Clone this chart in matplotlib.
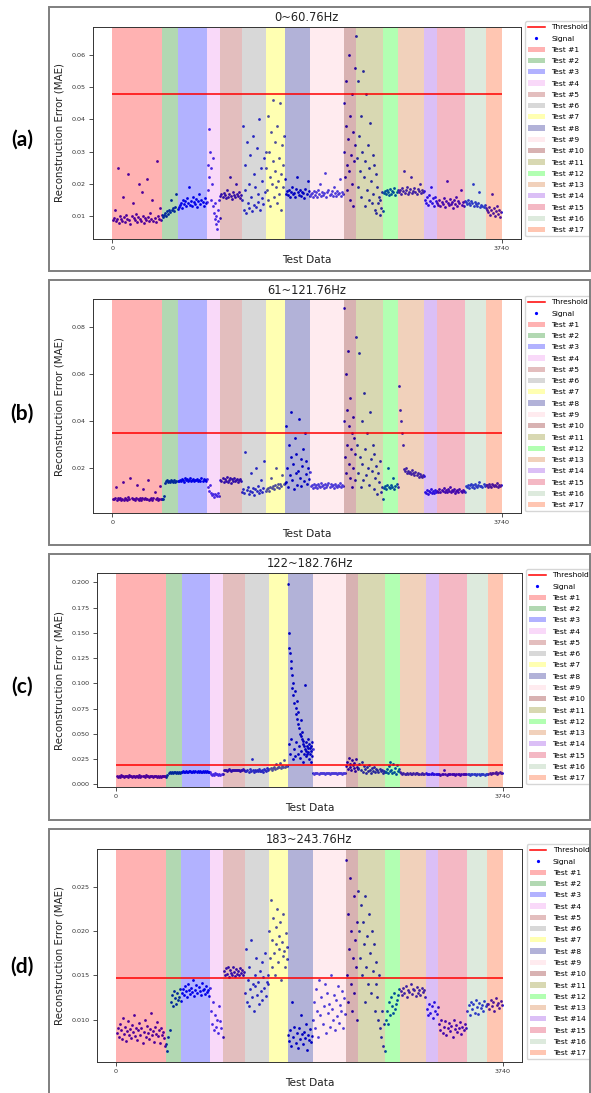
"""
Reconstruction error (MAE) over the test data for four frequency bands,
with the 17 test conditions shaded and the anomaly threshold in red.
"""

import matplotlib.pyplot as plt
from matplotlib.lines import Line2D
from matplotlib.patches import Patch, Rectangle
import numpy as np

# ---- data ---------------------------------------------------------------
# sample index where each test starts/ends (17 tests, 3740 samples)
test_edges = [0, 482, 633, 913, 1035, 1245, 1478, 1661, 1902, 2223,
              2338, 2603, 2747, 2999, 3118, 3392, 3592, 3740]
test_names = [f"Test #{i}" for i in range(1, 18)]
test_colors = ['red', 'green', 'blue', 'violet', 'brown', 'grey', 'yellow',
               'navy', 'pink', 'maroon', 'olive', 'lime', 'chocolate',
               'blueviolet', 'crimson', 'darkseagreen', 'orangered']

band_titles = ['0~60.76Hz', '61~121.76Hz', '122~182.76Hz', '183~243.76Hz']
thresholds = [0.0480, 0.0351, 0.0188, 0.01475]

# MAE readings per test, in units of 1e-4
mae_a = [
    [88, 95, 120, 84, 92, 250, 78, 101, 90, 86, 160, 97, 83, 105, 92, 230, 89, 76, 99, 140, 94, 87, 108, 81,
     96, 200, 91, 85, 175, 102, 79, 93, 88, 215, 97, 84, 110, 90, 150, 86, 95, 82, 270, 99, 91, 125, 87, 104],
    [98, 104, 110, 102, 115, 108, 120, 112, 150, 118, 125, 116, 128, 170, 122],
    [128, 135, 142, 124, 150, 138, 146, 132, 155, 141, 190, 136, 148, 130, 158, 144, 139, 152, 127, 147,
     170, 137, 149, 143, 133, 156, 140, 145],
    [180, 260, 370, 220, 300, 150, 250, 200, 280, 130, 110, 90, 140, 75, 100, 60, 120, 85, 150, 95],
    [162, 168, 158, 172, 165, 155, 180, 160, 170, 220, 163, 152, 175, 166, 159, 200, 168, 161, 174, 157, 165],
    [150, 380, 120, 260, 180, 110, 330, 140, 200, 125, 290, 160, 115, 350, 135, 230, 190, 128, 310, 170,
     145, 400, 118, 250, 155, 210, 138, 280, 175, 300],
    [250, 180, 410, 150, 300, 220, 130, 360, 200, 270, 460, 160, 240, 330, 190, 140, 380, 210, 280, 170,
     450, 230, 120, 320, 260, 190, 350, 215],
    [170, 178, 165, 182, 160, 175, 190, 168, 172, 158, 185, 220, 174, 166, 180, 162, 176, 171, 155, 184,
     169, 210, 177, 163],
    [168, 172, 160, 178, 165, 175, 158, 182, 170, 200, 163, 176, 167, 171, 235, 159, 174, 180, 166, 169,
     177, 161, 190, 173, 164, 179, 168, 171, 215, 162, 176, 170],
    [300, 450, 220, 380, 520, 260, 180, 340, 600, 240, 410, 150, 290, 480, 200, 360, 130, 270, 560, 320],
    [660, 280, 520, 190, 350, 240, 410, 160, 300, 550, 220, 130, 270, 480, 180, 320, 250, 150, 390, 210,
     140, 290, 170, 260, 120, 230, 110, 190, 140, 160, 105, 150, 125, 175, 115],
    [172, 178, 168, 182, 175, 165, 185, 170, 179, 174, 188, 167, 176, 181],
    [175, 182, 170, 186, 178, 240, 173, 180, 190, 168, 176, 184, 220, 171, 179, 187, 174, 169, 183, 177,
     200, 172, 181, 175, 178],
    [150, 142, 158, 136, 165, 148, 190, 140, 155, 132, 160, 146],
    [142, 136, 150, 130, 145, 138, 155, 128, 147, 210, 140, 134, 152, 139, 144, 126, 149, 137, 160, 133,
     146, 141, 180, 135, 143, 131, 148],
    [145, 138, 150, 142, 135, 148, 140, 200, 133, 144, 137, 130, 141, 175, 128, 136, 132, 127, 134, 125],
    [120, 112, 128, 105, 118, 170, 110, 124, 100, 115, 132, 108, 119, 98, 114],
]

mae_b = [
    [70, 68, 74, 120, 66, 72, 69, 75, 65, 71, 140, 67, 73, 70, 64, 76, 68, 160, 72, 69, 71, 66, 74, 130,
     70, 67, 73, 65, 72, 110, 69, 75, 68, 71, 150, 66, 70, 74, 67, 72, 100, 69, 73, 65, 71, 125, 68, 70],
    [70, 80, 138, 145, 150, 142, 148, 140, 152, 146, 143, 149, 141, 147, 144],
    [148, 152, 145, 155, 150, 143, 157, 149, 153, 146, 151, 158, 144, 150, 154, 147, 152, 149, 156, 145,
     151, 148, 160, 146, 153, 150, 147, 155],
    [120, 105, 130, 95, 85, 90, 78, 92, 88, 80, 96, 84],
    [152, 145, 158, 140, 155, 148, 162, 143, 150, 157, 138, 153, 147, 160, 144, 151, 156, 142, 149, 154, 146],
    [100, 112, 95, 270, 108, 120, 90, 104, 180, 98, 115, 88, 110, 200, 102, 125, 93, 107, 150, 99, 118,
     230, 105],
    [110, 118, 105, 122, 160, 115, 125, 112, 128, 200, 120, 131, 118, 135, 126, 170, 132, 138],
    [140, 380, 200, 120, 300, 170, 250, 440, 150, 220, 110, 330, 180, 260, 130, 190, 410, 160, 240, 125,
     210, 280, 145, 350, 175, 230, 135, 200, 155, 185],
    [125, 130, 118, 135, 122, 128, 115, 132, 126, 120, 138, 124, 129, 117, 133, 121, 127, 136, 119, 131,
     123, 128, 114, 134, 126, 120, 130, 125, 137, 122, 128, 124],
    [880, 400, 250, 600, 180, 450, 300, 700, 220, 380, 160, 500, 280, 350, 120, 420, 200, 330, 150, 260],
    [760, 300, 180, 690, 250, 120, 400, 220, 150, 520, 280, 170, 350, 200, 130, 440, 240, 190, 300, 110,
     260, 160, 210, 90, 180, 140, 230, 100, 120, 70],
    [118, 125, 112, 130, 200, 120, 115, 128, 122, 160, 110, 126, 135, 119],
    [550, 450, 400, 350, 300, 195, 188, 200, 182, 190, 178, 185, 176, 192, 180, 172, 186, 170, 178, 165,
     174, 168, 162, 171, 166],
    [100, 95, 108, 92, 104, 98, 110, 94, 102, 96, 106, 99],
    [105, 100, 112, 98, 108, 103, 115, 101, 106, 97, 110, 104, 120, 99, 107, 102, 111, 96, 105, 109, 100,
     113, 103, 98, 107, 104, 101],
    [124, 120, 130, 118, 127, 135, 122, 128, 116, 132, 125, 121, 129, 140, 123, 126, 119, 131, 124, 127],
    [128, 122, 131, 125, 120, 134, 127, 123, 130, 126, 138, 121, 129, 124, 127],
]

mae_c = [
    [80, 76, 84, 72, 88, 79, 83, 70, 86, 78, 81, 75, 90, 77, 82, 74, 85, 79, 68, 83, 80, 76, 87, 73, 81,
     78, 84, 71, 89, 77, 80, 75, 83, 79, 86, 72, 81, 78, 84, 76, 80, 74, 82, 70, 85, 78, 81, 77],
    [70, 95, 112, 118, 115, 120, 114, 117, 121, 113, 119, 116, 118, 115, 120],
    [124, 128, 122, 126, 130, 125, 121, 127, 129, 123, 126, 131, 124, 128, 122, 127, 125, 130, 123, 126,
     129, 124, 127, 121, 128, 125, 126, 123],
    [100, 95, 105, 92, 108, 98, 102, 96, 106, 94, 101, 99],
    [140, 138, 144, 135, 142, 147, 139, 136, 143, 141, 146, 137, 140, 145, 138, 142, 136, 144, 140, 148, 139],
    [135, 128, 142, 125, 150, 133, 250, 138, 122, 145, 131, 140, 127, 155, 136, 130, 143, 126, 148, 137,
     132, 160, 140],
    [150, 158, 145, 165, 170, 155, 200, 160, 175, 168, 210, 162, 180, 172, 240, 170, 185, 178],
    [1980, 1500, 400, 1350, 1300, 300, 1220, 1150, 450, 1080, 950, 250, 1000, 880, 350, 800, 920, 280, 760,
     700, 420, 820, 650, 300, 600, 720, 380, 560, 500, 260, 640, 480, 330, 450, 520, 220, 400, 430, 300,
     380, 350, 980, 420, 330, 280, 300, 380, 450, 360, 320, 400, 250, 360, 300, 220, 380, 330, 280, 420, 350],
    [110, 106, 114, 108, 112, 104, 116, 109, 111, 107, 113, 105, 110, 115, 108, 112, 106, 110, 114, 109,
     107, 113, 111, 105, 112, 108, 110, 114, 106, 111, 109, 113],
    [180, 220, 150, 260, 170, 200, 140, 240, 190, 160, 210, 130, 250, 175, 155],
    [160, 200, 140, 220, 120, 180, 150, 110, 170, 130, 190, 145, 115, 165, 135, 175, 125, 155, 140, 120,
     150, 130, 145, 115, 135, 125],
    [120, 150, 110, 180, 130, 220, 140, 115, 200, 125, 160, 105, 190, 135, 150, 120],
    [108, 104, 112, 100, 106, 110, 102, 115, 105, 99, 109, 103, 107, 111, 101, 106, 104, 113, 100, 105, 108],
    [102, 98, 105, 100, 108, 97, 103, 101, 99, 104],
    [100, 96, 104, 98, 140, 102, 95, 106, 99, 101, 97, 103, 100, 94, 105, 98, 102, 96, 104, 99, 101, 97, 103],
    [98, 102, 95, 100, 104, 97, 101, 96, 103, 99, 94, 102, 98, 100, 96, 101, 99],
    [105, 110, 102, 115, 108, 112, 118, 106, 114, 120, 110, 116],
]

mae_d = [
    [85, 90, 80, 95, 88, 78, 102, 84, 92, 76, 87, 98, 82, 89, 79, 94, 86, 105, 81, 91, 77, 88, 96, 83,
     90, 74, 86, 100, 80, 93, 85, 78, 89, 108, 82, 87, 75, 92, 84, 97, 81, 88, 73, 90, 83, 86, 79, 70],
    [72, 65, 80, 88, 120, 128, 115, 132, 124, 118, 130, 122, 126, 135, 121],
    [130, 135, 128, 138, 132, 126, 140, 133, 129, 136, 131, 145, 127, 134, 139, 130, 137, 132, 128, 141,
     133, 135, 129, 138, 131, 134, 127, 136],
    [110, 95, 120, 88, 105, 92, 100, 85, 115, 98, 90, 80],
    [155, 150, 158, 152, 160, 148, 156, 153, 151, 159, 154, 149, 157, 152, 155, 150, 158, 153, 156, 151, 154],
    [130, 180, 120, 145, 115, 160, 135, 190, 125, 140, 110, 150, 138, 170, 128, 142, 118, 155, 132, 165,
     122, 148, 136, 175, 127, 143, 140, 150],
    [200, 170, 235, 160, 190, 215, 175, 150, 205, 185, 225, 165, 195, 180, 210, 145, 188, 172, 220, 178,
     160, 198, 182, 168],
    [82, 76, 88, 70, 120, 80, 92, 74, 85, 68, 90, 78, 105, 84, 72, 86, 79, 95, 66, 83, 77, 89, 75, 81],
    [100, 120, 90, 135, 110, 80, 145, 105, 125, 95, 115, 140, 85, 130, 108, 118, 92, 150, 112, 100, 128,
     88, 122, 104, 138, 96, 116, 110, 132, 90, 124, 106],
    [280, 150, 220, 120, 180, 260, 140, 200, 110, 170, 240, 130, 190, 160, 100, 210],
    [245, 200, 170, 230, 150, 210, 185, 120, 240, 160, 195, 140, 220, 175, 130, 200, 155, 185, 110, 165,
     140, 125, 100, 150, 90, 80, 110, 70, 95, 65],
    [100, 110, 95, 120, 105, 125, 115, 108, 130, 112, 118, 122, 128, 135],
    [132, 128, 136, 130, 138, 125, 134, 131, 140, 129, 135, 133, 127, 137, 130, 134, 128, 136, 131, 133, 126],
    [112, 105, 118, 108, 115, 102, 120, 110, 106, 114],
    [95, 88, 100, 85, 92, 98, 82, 90, 96, 87, 93, 80, 99, 89, 94, 86, 91, 97, 84, 92, 88, 95, 90],
    [110, 116, 105, 120, 112, 118, 108, 122, 114, 106, 119, 113, 117, 110, 121, 115, 118],
    [118, 112, 122, 115, 120, 110, 124, 116, 119, 113, 121, 117],
]

band_mae = [mae_a, mae_b, mae_c, mae_d]
band_ylims = [(0.0030, 0.0688), (0.0011, 0.0919), (-0.0030, 0.2092), (0.0052, 0.0293)]
band_yticks = [[0.01, 0.02, 0.03, 0.04, 0.05, 0.06],
               [0.02, 0.04, 0.06, 0.08],
               [0.000, 0.025, 0.050, 0.075, 0.100, 0.125, 0.150, 0.175, 0.200],
               [0.010, 0.015, 0.020, 0.025]]
band_yfmt = ['{:.2f}', '{:.2f}', '{:.3f}', '{:.3f}']
panel_labels = ['(a)', '(b)', '(c)', '(d)']

# ---- layout (pixel boxes of the 591x1093 figure) -------------------------
W, H = 591, 1093
axes_px = [(92.7, 26.7, 521.0, 238.7), (92.7, 299.3, 521.0, 512.7),
           (96.7, 573.0, 522.3, 787.3), (96.7, 849.0, 522.0, 1062.0)]
frame_px = [(49, 7, 590, 271), (49, 280, 590, 545),
            (49, 554, 590, 820), (49, 829, 590, 1100)]
legend_px = [(525, 21), (525, 296), (526, 569), (526.5, 844)]
label_y = [140, 414, 687, 967]

fig = plt.figure(figsize=(W / 100, H / 100), dpi=100)

for k in range(4):
    l, t, r, b = axes_px[k]
    ax = fig.add_axes([l / W, 1 - b / H, (r - l) / W, (b - t) / H])

    # signal points spread evenly over each test's sample range
    xs, ys = [], []
    for i, vals in enumerate(band_mae[k]):
        n = len(vals)
        xs.append(np.linspace(test_edges[i], test_edges[i + 1], n, endpoint=False)
                  + (test_edges[i + 1] - test_edges[i]) / (2 * n))
        ys.append(np.array(vals) * 1e-4)
    ax.scatter(np.concatenate(xs), np.concatenate(ys), s=4, color='#0000dd',
               linewidths=0, zorder=1)

    # shaded test regions on top, so points take on their tint
    for i in range(17):
        ax.axvspan(test_edges[i], test_edges[i + 1], color=test_colors[i],
                   alpha=0.3, lw=0, zorder=2)

    ax.hlines(thresholds[k], 0, 3740, color='red', lw=1.1, zorder=3)

    ax.set_xlim(-187, 3927)
    ax.set_ylim(*band_ylims[k])
    ax.set_xticks([0, 3740])
    ax.set_xticklabels(['0', '3740'])
    ax.set_yticks(band_yticks[k])
    ax.set_yticklabels([band_yfmt[k].format(v) for v in band_yticks[k]])
    ax.tick_params(labelsize=4.6, length=3, width=0.6, pad=2, colors='#333333')
    for sp in ax.spines.values():
        sp.set_linewidth(0.7)
        sp.set_color('#333333')

    ax.set_title(band_titles[k], fontsize=8.3, pad=4, color='#222222')
    ax.set_xlabel('Test Data', fontsize=7.6, labelpad=3, color='#222222')
    ax.set_ylabel('Reconstruction Error (MAE)', fontsize=7.4, labelpad=5, color='#222222')

    handles = [Line2D([], [], color='red', lw=1.1),
               Line2D([], [], ls='none', marker='o', markersize=1.3, color='blue')]
    handles += [Patch(facecolor=c, alpha=0.3, lw=0) for c in test_colors]
    lx, ly = legend_px[k]
    ax.legend(handles, ['Threshold', 'Signal'] + test_names, loc='upper left',
              bbox_to_anchor=(lx / W, 1 - ly / H), bbox_transform=fig.transFigure,
              borderaxespad=0, fontsize=5.4, labelspacing=0.67, handlelength=2.2,
              handletextpad=0.9, borderpad=0.4, framealpha=0.8)

    # grey frame round each panel and the bold panel letter
    fl, ft, fr, fb = frame_px[k]
    fig.add_artist(Rectangle((fl / W, 1 - fb / H), (fr - fl) / W, (fb - ft) / H,
                             transform=fig.transFigure, fill=False,
                             edgecolor='#7f7f7f', lw=1.4))
    fig.text(22 / W, 1 - label_y[k] / H, panel_labels[k], fontsize=15,
             fontweight='bold', family='Lato', ha='center', va='center')

fig.savefig('out.png', dpi=100)
